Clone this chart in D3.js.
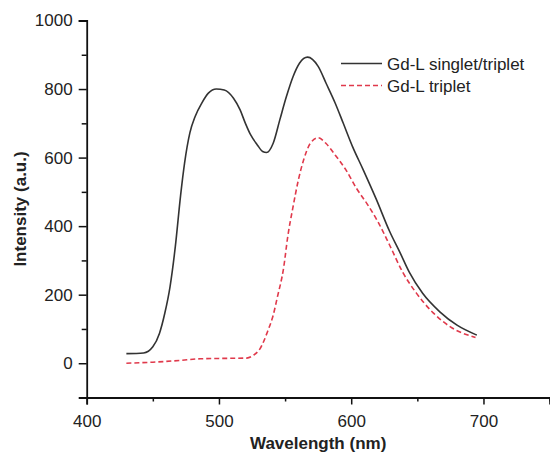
<!DOCTYPE html>
<html>
<head>
<meta charset="utf-8">
<script src="https://cdn.jsdelivr.net/npm/d3@7"></script>
<style>
  body { margin: 0; background: #fff; }
  svg { display: block; font-family: "Liberation Sans", Arial, sans-serif; }
</style>
</head>
<body>
<svg id="chart" width="550" height="453"></svg>
<script>
// Gd-L singlet/triplet (black, solid)
var wlBoth = [430, 443, 450, 455, 459, 463, 467, 471, 474, 478, 482, 487, 492, 498, 504, 511, 516, 520, 524, 529, 533, 536, 541, 546, 551, 556, 561, 567, 575, 581, 588, 594, 601, 609, 619, 629, 637, 644, 654, 667, 680, 695];
var intBoth = [28, 30, 48, 87, 145, 223, 340, 490, 584, 672, 720, 759, 788, 800, 797, 773, 739, 700, 666, 637, 618, 615, 642, 710, 778, 836, 876, 893, 866, 817, 758, 700, 632, 565, 478, 385, 322, 265, 204, 150, 111, 82];

// Gd-L triplet (red, dashed)
var wlTrip = [430, 450, 470, 486, 500, 521, 526, 531, 537, 541, 544, 549, 552, 556, 560, 564, 569, 575, 581, 588, 596, 604, 612, 620, 629, 639, 649, 662, 675, 694];
var intTrip = [0, 3, 8, 13, 14, 15, 23, 42, 95, 140, 190, 281, 369, 456, 534, 593, 641, 658, 641, 607, 564, 510, 465, 414, 345, 265, 206, 147, 106, 75];

var xTicks = [400, 500, 600, 700];
var xMinor = [450, 550, 650, 750];
var yTicks = [0, 200, 400, 600, 800, 1000];
var yMinor = [-100, 100, 300, 500, 700, 900];
var seriesNames = ["Gd-L singlet/triplet", "Gd-L triplet"];

var svg = d3.select("#chart");
var fontSize = 17;

var x = d3.scaleLinear().domain([400, 750]).range([86.7, 549.6]);
var y = d3.scaleLinear().domain([-100, 1000]).range([397.5, 20.5]);

// x axis
var xAxis = svg.append("g").attr("transform", "translate(0," + y(-100) + ")");
xAxis.call(d3.axisBottom(x).tickValues(xTicks).tickSize(7).tickPadding(10).tickFormat(d3.format("d")));
xAxis.append("g").call(d3.axisBottom(x).tickValues(xMinor).tickSize(4).tickFormat(""))
  .select(".domain").remove();

// y axis
var yAxis = svg.append("g").attr("transform", "translate(" + x(400) + ",0)");
yAxis.call(d3.axisLeft(y).tickValues(yTicks).tickSize(8).tickPadding(6).tickFormat(d3.format("d")));
yAxis.append("g").call(d3.axisLeft(y).tickValues(yMinor).tickSize(5).tickFormat(""))
  .select(".domain").remove();

svg.selectAll(".domain").attr("stroke", "#111").attr("stroke-width", 1.8);
svg.selectAll(".tick line").attr("stroke", "#111").attr("stroke-width", 1.5);
svg.selectAll(".tick text").attr("font-size", fontSize).attr("fill", "#222")
  .attr("font-family", "Liberation Sans, Arial, sans-serif");

// axis titles
svg.append("text")
  .attr("x", x(575)).attr("y", 449)
  .attr("text-anchor", "middle")
  .attr("font-size", fontSize).attr("font-weight", "bold").attr("fill", "#222")
  .text("Wavelength (nm)");

svg.append("text")
  .attr("transform", "translate(26," + 209 + ") rotate(-90)")
  .attr("text-anchor", "middle")
  .attr("font-size", fontSize).attr("font-weight", "bold").attr("fill", "#222")
  .text("Intensity (a.u.)");

// lines
var line = d3.line()
  .x(function(d) { return x(d[0]); })
  .y(function(d) { return y(d[1]); })
  .curve(d3.curveMonotoneX);

svg.append("path")
  .datum(d3.zip(wlBoth, intBoth))
  .attr("fill", "none")
  .attr("stroke", "#333")
  .attr("stroke-width", 1.6)
  .attr("d", line);

svg.append("path")
  .datum(d3.zip(wlTrip, intTrip))
  .attr("fill", "none")
  .attr("stroke", "#e0394b")
  .attr("stroke-width", 1.6)
  .attr("stroke-dasharray", "5,3")
  .attr("d", line);

// legend
var legend = svg.append("g");
var styles = [
  { stroke: "#333", dash: null },
  { stroke: "#e0394b", dash: "5,3" }
];
seriesNames.forEach(function(name, i) {
  var cy = 63.5 + i * 22;
  legend.append("line")
    .attr("x1", 341).attr("x2", 382)
    .attr("y1", cy).attr("y2", cy)
    .attr("stroke", styles[i].stroke)
    .attr("stroke-width", 1.6)
    .attr("stroke-dasharray", styles[i].dash);
  legend.append("text")
    .attr("x", 387).attr("y", cy + 6)
    .attr("font-size", fontSize).attr("fill", "#222")
    .text(name);
});
</script>
</body>
</html>
